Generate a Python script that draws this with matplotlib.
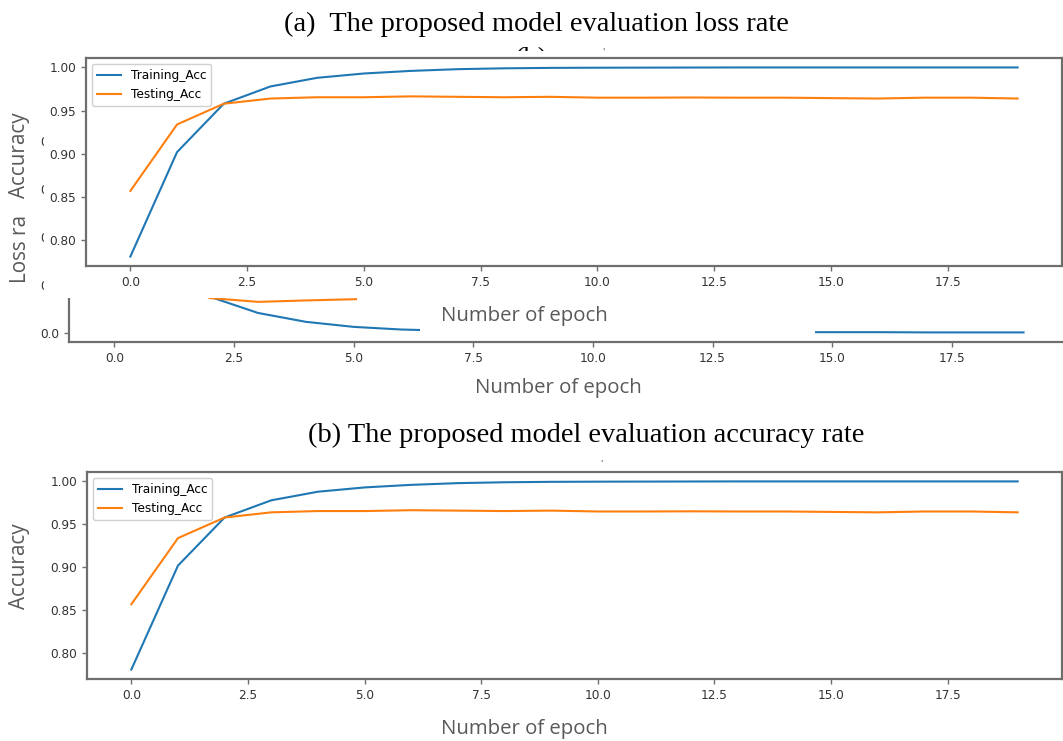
import matplotlib
matplotlib.use('Agg')
import matplotlib.pyplot as plt
from matplotlib.patches import Rectangle

W, H = 1063, 741

# ---------------- data ----------------
epochs = list(range(20))
train_acc = [0.781, 0.902, 0.958, 0.978, 0.988, 0.993, 0.996, 0.998, 0.999, 0.9995,
             0.9997, 0.9998, 0.9999, 1.0, 1.0, 1.0, 1.0, 1.0, 1.0, 1.0]
test_acc = [0.857, 0.934, 0.958, 0.964, 0.9655, 0.9655, 0.9665, 0.966, 0.9655, 0.966,
            0.965, 0.965, 0.9652, 0.965, 0.965, 0.9645, 0.964, 0.965, 0.965, 0.964]
train_loss = [0.80, 0.33, 0.15, 0.083, 0.046, 0.025, 0.014, 0.009, 0.007, 0.006,
              0.005, 0.004, 0.004, 0.003, 0.003, 0.003, 0.003, 0.002, 0.002, 0.002]
test_loss = [0.48, 0.22, 0.145, 0.129, 0.135, 0.14, 0.146, 0.151, 0.156, 0.16,
             0.164, 0.168, 0.172, 0.176, 0.18, 0.184, 0.188, 0.192, 0.196, 0.20]
series_names = ['Training_Acc', 'Testing_Acc']
title_a = '(a)  The proposed model evaluation loss rate'
title_b = '(b) The proposed model evaluation accuracy rate'
xlabel = 'Number of epoch'
ylabel_acc = 'Accuracy'
ylabel_loss = 'Loss rate'

BLUE, ORANGE = '#1f77b4', '#ff7f0e'
SPINE = '#6e6e6e'
LABEL_C = '#595959'

fig = plt.figure(figsize=(W / 100, H / 100), dpi=100)
fig.patch.set_facecolor('white')
renderer = fig.canvas.get_renderer()


def box(l, t, r, b):
    return [l / W, 1 - b / H, (r - l) / W, (b - t) / H]


def fx(x):
    return x / W


def fy(y):
    return 1 - y / H


def style(ax):
    for s in ax.spines.values():
        s.set_color(SPINE)
        s.set_linewidth(1.6)
    ax.tick_params(labelsize=8.7, length=3.5, width=1.0, color=SPINE, labelcolor='#333333')


def fit(t, width=None, height=None):
    bb = t.get_window_extent(renderer)
    fs = t.get_fontsize()
    if width is not None:
        t.set_fontsize(fs * width / bb.width)
    elif height is not None:
        t.set_fontsize(fs * height / bb.height)
    return t


# reference font sizes fitted to the picture
probe = fig.text(0, 0, ylabel_acc, rotation=90, family='Open Sans', fontsize=14)
fit(probe, height=86)
LAB_FS = probe.get_fontsize()
probe.remove()
probe = fig.text(0, 0, 'Loss ra', rotation=90, family='Open Sans', fontsize=LAB_FS)
LOSS_RA_H = probe.get_window_extent(renderer).height
probe.remove()
probe = fig.text(0, 0, xlabel, family='Open Sans', fontsize=14)
fit(probe, width=168)
XLAB_FS = probe.get_fontsize()
probe.remove()
probe = fig.text(0, 0, title_b, family='Liberation Serif', fontsize=16)
fit(probe, width=557)
TB_FS = probe.get_fontsize()
probe.remove()

# ---------------- loss axes (background) ----------------
ax_loss = fig.add_axes(box(69, 131, 1069, 342), zorder=0)
ax_loss.plot(epochs, train_loss, color=BLUE, lw=1.5)
ax_loss.plot(epochs, test_loss, color=ORANGE, lw=1.5)
style(ax_loss)
fig.text(fx(558), fy(388), xlabel, ha='center', va='center', color=LABEL_C,
         family='Open Sans', fontsize=XLAB_FS, zorder=0.5)
LOSS_BOTTOM = 283
fig.text(fx(20), fy(LOSS_BOTTOM), ylabel_loss, ha='center', va='bottom', rotation=90,
         color=LABEL_C, family='Open Sans', fontsize=LAB_FS, zorder=0.5)

# partially hidden title fragment
fig.text(fx(531), fy(66), title_b.split(' ')[0], ha='center', va='baseline',
         family='Liberation Serif', fontsize=TB_FS, zorder=0.5)

# ---------------- white covers (pasted image) ----------------
left_cover_bottom = LOSS_BOTTOM - LOSS_RA_H + 2
covers = [(44, 51, 1063, 298), (0, 51, 36, left_cover_bottom),
          (357, 297, 1063, 306), (420, 297, 815, 339)]
for (l, t, r, b) in covers:
    fig.add_artist(Rectangle((fx(l), fy(b)), (r - l) / W, (b - t) / H,
                             transform=fig.transFigure, facecolor='white',
                             edgecolor='none', zorder=1))


# ---------------- accuracy axes ----------------
def acc_axes(rect, z):
    ax = fig.add_axes(rect, zorder=z)
    ax.plot(epochs, train_acc, color=BLUE, lw=1.5, label=series_names[0])
    ax.plot(epochs, test_acc, color=ORANGE, lw=1.5, label=series_names[1])
    style(ax)
    ax.legend(loc='upper left', fontsize=8.7, frameon=True, edgecolor='#d0d0d0',
              framealpha=1.0)
    return ax


ax_top = acc_axes(box(86, 58, 1062, 266), 2)
fig.text(fx(524), fy(316), xlabel, ha='center', va='center', color=LABEL_C,
         family='Open Sans', fontsize=XLAB_FS, zorder=3)
fig.text(fx(20), fy(155), ylabel_acc, ha='center', va='center', rotation=90,
         color=LABEL_C, family='Open Sans', fontsize=LAB_FS, zorder=3)
fig.text(fx(603), fy(52), "'", ha='center', va='center', color='#444444',
         fontsize=6, zorder=3)

ax_bot = acc_axes(box(87, 472, 1062, 679), 2)
fig.text(fx(524), fy(729), xlabel, ha='center', va='center', color=LABEL_C,
         family='Open Sans', fontsize=XLAB_FS, zorder=3)
fig.text(fx(20), fy(566), ylabel_acc, ha='center', va='center', rotation=90,
         color=LABEL_C, family='Open Sans', fontsize=LAB_FS, zorder=3)
fig.text(fx(601), fy(464), "'", ha='center', va='center', color='#444444',
         fontsize=6, zorder=3)

# ---------------- panel titles ----------------
ta = fig.text(fx(536), fy(24), title_a, ha='center', va='center',
              family='Liberation Serif', fontsize=16, zorder=3)
fit(ta, width=505)
fig.text(fx(586), fy(435), title_b, ha='center', va='center',
         family='Liberation Serif', fontsize=TB_FS, zorder=3)

fig.savefig('out.png', dpi=100, facecolor='white')
